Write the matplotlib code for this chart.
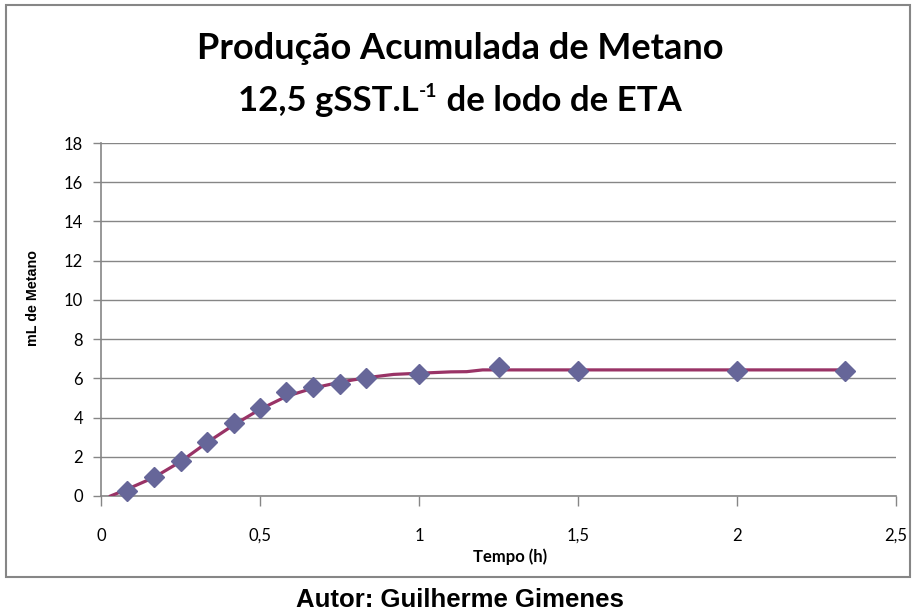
import matplotlib
matplotlib.use("Agg")
import matplotlib.pyplot as plt
from matplotlib.patches import Rectangle
from matplotlib.ticker import FuncFormatter, MultipleLocator

# measured points (markers)
tempo_h = [0.083, 0.167, 0.25, 0.333, 0.417, 0.5, 0.583, 0.667, 0.75, 0.833,
           1.0, 1.25, 1.5, 2.0, 2.34]
metano_ml = [0.27, 0.95, 1.8, 2.74, 3.71, 4.5, 5.32, 5.54, 5.71, 6.0,
             6.22, 6.56, 6.38, 6.38, 6.38]

# fitted curve
tempo_fit = [0.03, 0.083, 0.167, 0.25, 0.333, 0.417, 0.5, 0.583, 0.667, 0.75,
             0.833, 0.92, 1.0, 1.1, 1.15, 1.2, 1.5, 2.0, 2.34]
metano_fit = [0.0, 0.35, 0.95, 1.75, 2.72, 3.62, 4.42, 5.08, 5.5, 5.8,
              6.03, 6.2, 6.26, 6.33, 6.34, 6.43, 6.43, 6.43, 6.43]

GRAY = "#868686"
FONT = "Lato"
W, H = 914, 615


def fx(px):
    return px / W


def fy(py):
    return 1 - py / H


fig = plt.figure(figsize=(W / 100, H / 100), dpi=100)
ax = fig.add_axes([fx(101), fy(496), 795 / W, 353 / H])

ax.plot(tempo_fit, metano_fit, color="#993366", lw=2.3, zorder=3)
ax.plot(tempo_h, metano_ml, ls="none", marker="D", ms=10,
        color="#666699", zorder=4, clip_on=False)

ax.set_xlim(0, 2.5)
ax.set_ylim(0, 18)
ax.xaxis.set_major_locator(MultipleLocator(0.5))
ax.yaxis.set_major_locator(MultipleLocator(2))
fmt = FuncFormatter(lambda v, _: f"{v:g}".replace(".", ","))
ax.xaxis.set_major_formatter(fmt)
ax.yaxis.set_major_formatter(fmt)

ax.grid(axis="y", color=GRAY, lw=1)
ax.set_axisbelow(True)
for side in ("top", "right"):
    ax.spines[side].set_visible(False)
for side in ("left", "bottom"):
    ax.spines[side].set_color(GRAY)
    ax.spines[side].set_linewidth(1.2)
ax.tick_params(colors=GRAY, width=1, labelcolor="black", labelsize=12)
ax.tick_params(axis="x", length=7, pad=16)
ax.tick_params(axis="y", length=6, pad=7)
for lab in ax.get_xticklabels() + ax.get_yticklabels():
    lab.set_family(FONT)

fig.text(fx(510), fy(562), "Tempo (h)", ha="center", va="baseline",
         family=FONT, weight="bold", fontsize=12)
fig.text(fx(33), fy(298), "mL de Metano", ha="center", va="center",
         rotation=90, family="Liberation Sans", weight="bold", fontsize=10.3)

# title, line 1
fig.text(fx(460), fy(59), "Produção Acumulada de Metano",
         ha="center", va="baseline", family=FONT, weight="bold", fontsize=26)

# title, line 2 with a raised "-1"
renderer = fig.canvas.get_renderer()
parts = [("12,5 gSST.L", 25, 0), ("-1", 14, 14), (" de lodo de ETA", 25, 0)]
texts = [fig.text(0, fy(111) + rise / H, s, ha="left", va="baseline",
                  family=FONT, weight="bold", fontsize=size)
         for s, size, rise in parts]
widths = [t.get_window_extent(renderer).width for t in texts]
x = 460 - sum(widths) / 2
for t, w in zip(texts, widths):
    t.set_x(fx(x))
    x += w

fig.text(fx(460), fy(607), "Autor: Guilherme Gimenes",
         ha="center", va="baseline", family="Liberation Sans", weight="bold",
         fontsize=18.5)

fig.patches.append(Rectangle((fx(6), fy(577)), 904 / W, 572 / H,
                             transform=fig.transFigure, fill=False,
                             edgecolor=GRAY, lw=1.5))

fig.savefig("out.png", dpi=100)
